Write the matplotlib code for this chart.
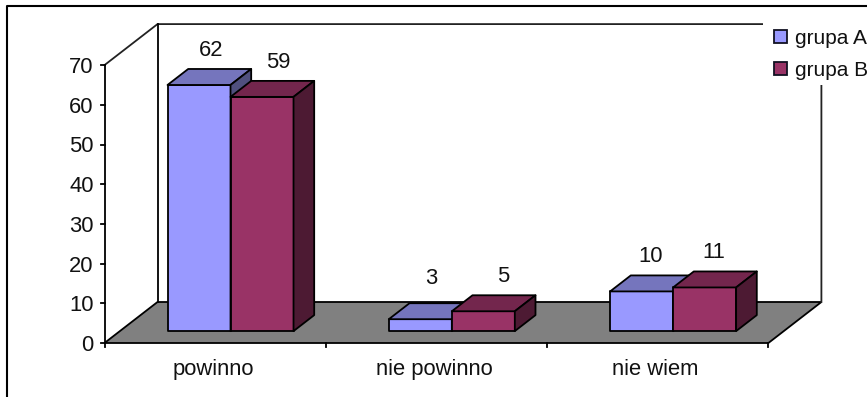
import numpy as np
import matplotlib.pyplot as plt
from matplotlib.patches import Polygon, Rectangle

plt.rcParams['font.family'] = ['Liberation Sans', 'DejaVu Sans']

categories = ['powinno', 'nie powinno', 'nie wiem']
grupa_a = [62, 3, 10]
grupa_b = [59, 5, 11]
series_names = ['grupa A', 'grupa B']
y_ticks = [0, 10, 20, 30, 40, 50, 60, 70]

# oblique projection, everything below ends up in pixels
X0, Y0 = 104.5, 343
CAT_W = 221.3
UNIT = 3.97
DEPTH_X, DEPTH_Y = 53, 41
FRONT, BACK = 0.29, 0.68
BAR_W = 63 / CAT_W

colors = [('#9999FF', '#7575BD', '#50507F'), ('#993366', '#73264D', '#4D1A33')]
# small shifts of the value labels, in pixels
label_shift = {(0, 0): (1, 0), (0, 1): (5, 0), (1, 0): (0, -6), (1, 1): (9, 0), (2, 0): (-2, 0), (2, 1): (-2, 0)}

LW = 1.3
FS = 15.8


def proj(x, v, d):
    return X0 + x * CAT_W + d * DEPTH_X, Y0 - v * UNIT - d * DEPTH_Y


fig = plt.figure(figsize=(8.67, 3.97), dpi=100)
ax = fig.add_axes([0, 0, 1, 1])
ax.set_xlim(0, 867)
ax.set_ylim(397, 0)
ax.axis('off')

# outer frame, runs off the right and bottom
ax.plot([7, 7, 867], [397, 5.5, 5.5], color='black', lw=1.5, solid_capstyle='butt')

n = len(categories)
top = max(y_ticks)

# floor and back wall
floor = [proj(0, 0, 0), proj(0, 0, 1), proj(n, 0, 1), proj(n, 0, 0)]
ax.add_patch(Polygon(floor, closed=True, facecolor='#808080', edgecolor='black', lw=LW))
wall = [proj(0, 0, 0), proj(0, top, 0), proj(0, top, 1), proj(n, top, 1), proj(n, 0, 1)]
ax.plot(*zip(*wall[1:]), color='#222222', lw=LW)
ax.plot(*zip(proj(0, 0, 1), proj(0, top, 1)), color='black', lw=LW)

# value axis
ax.plot(*zip(proj(0, 0, 0), proj(0, top, 0)), color='black', lw=LW)
for t in y_ticks:
    px, py = proj(0, t, 0)
    ax.plot([px - 4, px], [py, py], color='black', lw=LW)
    ax.text(px - 11, py, str(t), ha='right', va='center_baseline', fontsize=FS, color='#111111')

# category axis
for i in range(n + 1):
    px, py = proj(i, 0, 0)
    ax.plot([px, px], [py, py + 4], color='black', lw=LW)
for i, name in enumerate(categories):
    px, py = proj(i + 0.5, 0, 0)
    ax.text(px - 2, py + 24, name, ha='center', va='center_baseline', fontsize=FS, color='#111111')


def draw_bar(x, v, cols):
    w = BAR_W
    front = [proj(x, 0, FRONT), proj(x + w, 0, FRONT), proj(x + w, v, FRONT), proj(x, v, FRONT)]
    cap = [proj(x, v, FRONT), proj(x + w, v, FRONT), proj(x + w, v, BACK), proj(x, v, BACK)]
    side = [proj(x + w, 0, FRONT), proj(x + w, 0, BACK), proj(x + w, v, BACK), proj(x + w, v, FRONT)]
    for pts, c in zip((front, cap, side), cols):
        ax.add_patch(Polygon(pts, closed=True, facecolor=c, edgecolor='black', lw=LW, joinstyle='round'))


for i in range(n):
    start = i + 0.5 - BAR_W
    for j, vals in enumerate((grupa_a, grupa_b)):
        draw_bar(start + j * BAR_W, vals[i], colors[j])

for i in range(n):
    start = i + 0.5 - BAR_W
    for j, vals in enumerate((grupa_a, grupa_b)):
        px, py = proj(start + (j + 0.5) * BAR_W, vals[i], FRONT)
        sx, sy = label_shift.get((i, j), (0, 0))
        ax.text(px + 11 + sx, py - 37 + sy, str(vals[i]), ha='center', va='center_baseline',
                fontsize=FS, color='#111111')

# legend sits on a white block over the wall corner
ax.add_patch(Rectangle((763, 12), 104, 73, facecolor='white', edgecolor='none', zorder=5))
for k, name in enumerate(series_names):
    y = 37 + k * 32
    ax.add_patch(Rectangle((774, y - 7), 13, 13, facecolor=colors[k][0], edgecolor='#111122', lw=LW, zorder=6))
    ax.text(795, y, name, ha='left', va='center_baseline', fontsize=15, color='#111111', zorder=6)

fig.savefig('out.png', dpi=100)
